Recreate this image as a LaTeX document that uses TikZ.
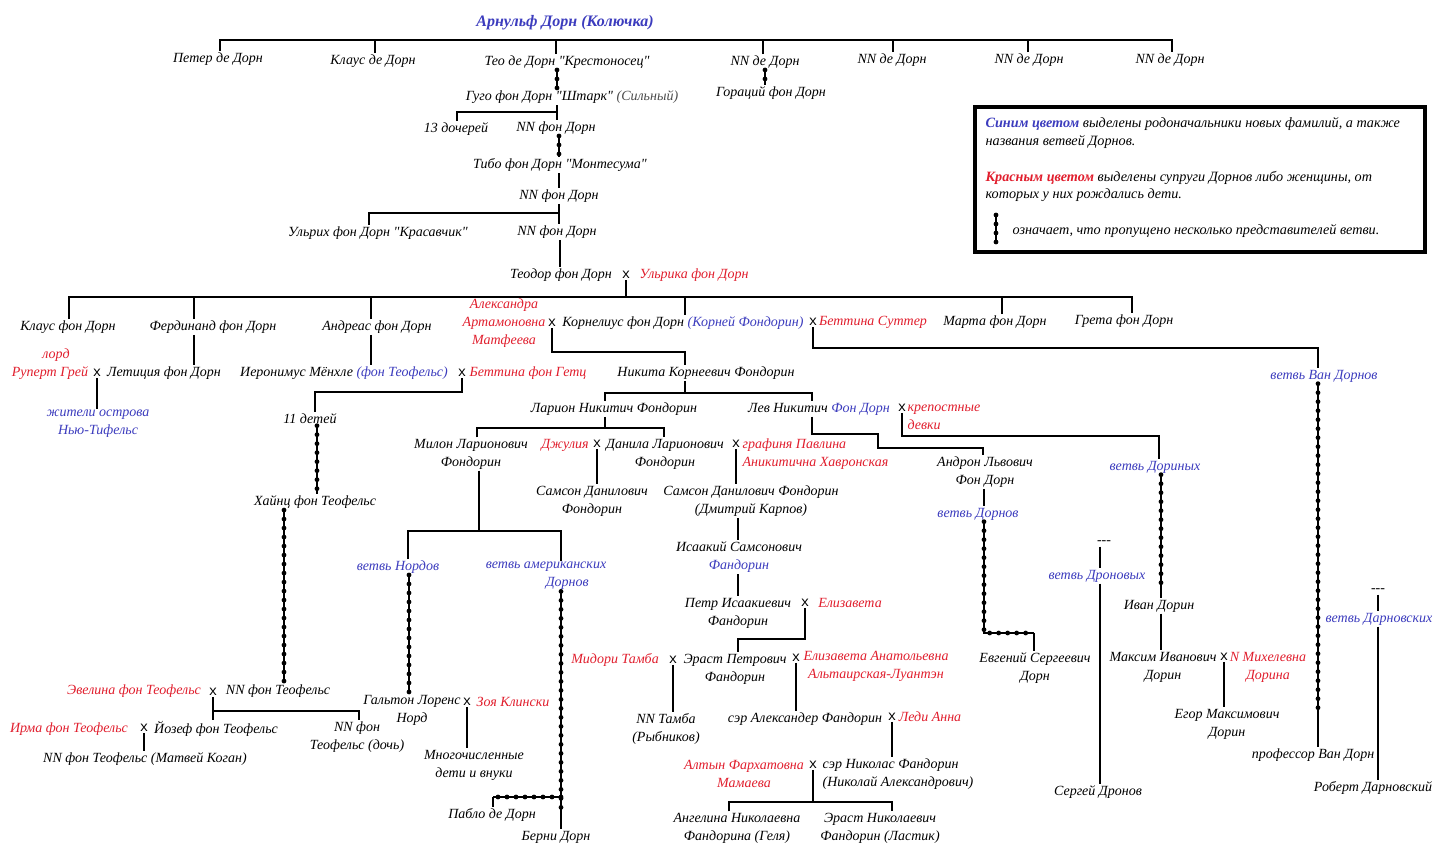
\documentclass[tikz,border=0pt]{standalone}
\usepackage{fontspec}
\setmainfont{Liberation Serif}
\newfontfamily\monofam{Liberation Mono}
\usetikzlibrary{decorations.markings}
\definecolor{myblue}{RGB}{60,60,190}
\definecolor{myred}{RGB}{225,30,45}
\newcommand\pplfont{\fontsize{14}{18}\selectfont\itshape}
\newcommand\crossfont{\monofam\fontsize{14}{14}\selectfont}
\newcommand\legfont{\fontsize{14.2}{17}\selectfont\itshape}
\newcommand\qq{\textquotedbl}
\tikzset{
  pn/.style={font=\pplfont, inner sep=1pt, align=center},
  bl/.style={pn, text=myblue},
  rd/.style={pn, text=myred},
  mk/.style={font=\crossfont, inner sep=0.5pt},
  lg/.style={font=\legfont, inner sep=0pt, anchor=west},
  gapline/.style={line width=1.6pt, postaction={decorate, decoration={markings, mark=between positions 0 and 1 step 9pt with {\fill (0,0) circle (2.4pt);}}}},
}
\begin{document}
\begin{tikzpicture}[x=1pt,y=-1pt,line width=1.2pt]
\useasboundingbox[fill=white] (0,0) rectangle (1456,864);
% ---------- nodes ----------
\node[bl,font=\fontsize{16}{18}\selectfont\itshape\bfseries] (root) at (565,23) {Арнульф Дорн (Колючка)};
\node[pn] (petr) at (218,59) {Петер де Дорн};
\node[pn] (klaus1) at (373,61) {Клаус де Дорн};
\node[pn] (teo) at (567,62) {Тео де Дорн \qq Крестоносец\qq};
\node[pn] (nn1) at (765,62) {NN де Дорн};
\node[pn] (nn2) at (892,60) {NN де Дорн};
\node[pn] (nn3) at (1029,60) {NN де Дорн};
\node[pn] (nn4) at (1170,60) {NN де Дорн};
\node[pn] (gugo) at (572,97) {Гуго фон Дорн \qq Штарк\qq{} {\color{black!70}(Сильный)}};
\node[pn] (horac) at (771,93) {Гораций фон Дорн};
\node[pn] (daughters) at (456,129) {13 дочерей};
\node[pn] (nnf1) at (556,128) {NN фон Дорн};
\node[pn] (tibo) at (560,165) {Тибо фон Дорн \qq Монтесума\qq};
\node[pn] (nnf2) at (559,196) {NN фон Дорн};
\node[pn] (ulrich) at (378,233) {Ульрих фон Дорн \qq Красавчик\qq};
\node[pn] (nnf3) at (557,232) {NN фон Дорн};
\node[pn] (teodor) at (561,275) {Теодор фон Дорн};
\node[mk] (m1) at (626,275) {x};
\node[rd] (ulrika) at (694,275) {Ульрика фон Дорн};
% generation of Teodor's children
\node[pn] (klaus2) at (68,327) {Клаус фон Дорн};
\node[pn] (ferd) at (213,327) {Фердинанд фон Дорн};
\node[pn] (andreas) at (377,327) {Андреас фон Дорн};
\node[rd] (alex) at (504,323) {Александра\\Артамоновна\\Матфеева};
\node[mk] (m2) at (552,323) {x};
\node[pn] (korn) at (683,323) {Корнелиус фон Дорн {\color{myblue}(Корней Фондорин)}};
\node[mk] (m3) at (813,322) {x};
\node[rd] (bettS) at (873,322) {Беттина Суттер};
\node[pn] (marta) at (995,322) {Марта фон Дорн};
\node[pn] (greta) at (1124,321) {Грета фон Дорн};
% Ferdinand line
\node[rd] (lord) at (56,355) {лорд};
\node[rd] (rupert) at (50,373) {Руперт Грей};
\node[mk] (m4) at (97,373) {x};
\node[pn] (letic) at (164,373) {Летиция фон Дорн};
\node[bl] (islanders) at (98,424) {жители острова\\Нью-Тифельс};
% Andreas line
\node[pn] (ieron) at (344,373) {Иеронимус Мёнхле {\color{myblue}(фон Теофельс)}};
\node[mk] (m5) at (462,373) {x};
\node[rd] (bettG) at (528,373) {Беттина фон Гетц};
\node[pn] (kids11) at (310,419) {11 детей};
\node[pn] (heinz) at (315,502) {Хайнц фон Теофельс};
\node[rd] (evel) at (134,691) {Эвелина фон Теофельс};
\node[mk] (m6) at (213,692) {x};
\node[pn] (nnT) at (278,691) {NN фон Теофельс};
\node[pn] (nnTd) at (357,737) {NN фон\\Теофельс (дочь)};
\node[rd] (irma) at (69,729) {Ирма фон Теофельс};
\node[mk] (m7) at (144,728) {x};
\node[pn] (josef) at (216,729) {Йозеф фон Теофельс};
\node[pn] (kogan) at (145,759) {NN фон Теофельс (Матвей Коган)};
% Kornelius line
\node[pn] (nikita) at (706,373) {Никита Корнеевич Фондорин};
\node[bl] (vanB) at (1324,376) {ветвь Ван Дорнов};
\node[pn] (vanD) at (1313,755) {профессор Ван Дорн};
\node[pn] (larion) at (614,409) {Ларион Никитич Фондорин};
\node[pn] (lev) at (819,409) {Лев Никитич {\color{myblue}Фон Дорн}};
\node[mk] (m8) at (902,408) {x};
\node[rd, anchor=west, align=left] (serfs) at (906,417) {крепостные\\девки};
\node[pn] (milon) at (471,454) {Милон Ларионович\\Фондорин};
\node[rd] (julia) at (565,445) {Джулия};
\node[mk] (m9) at (597,444) {x};
\node[pn] (danila) at (665,454) {Данила Ларионович\\Фондорин};
\node[mk] (m10) at (736,444) {x};
\node[rd, anchor=west, align=left] (pavlina) at (741,454) {графиня Павлина\\Аникитична Хавронская};
\node[pn] (samson1) at (592,501) {Самсон Данилович\\Фондорин};
\node[pn] (samson2) at (751,501) {Самсон Данилович Фондорин\\(Дмитрий Карпов)};
\node[pn] (isaak) at (739,557) {Исаакий Самсонович\\{\color{myblue}Фандорин}};
\node[pn] (petr2) at (738,613) {Петр Исаакиевич\\Фандорин};
\node[mk] (m11) at (805,603) {x};
\node[rd] (eliz) at (850,603) {Елизавета};
\node[rd] (midori) at (615,660) {Мидори Тамба};
\node[mk] (m12) at (673,660) {x};
\node[pn] (erast) at (735,669) {Эраст Петрович\\Фандорин};
\node[mk] (m13) at (796,658) {x};
\node[rd] (elizA) at (876,666) {Елизавета Анатольевна\\Альтаирская-Луантэн};
\node[pn] (nnTamba) at (666,729) {NN Тамба\\(Рыбников)};
\node[pn] (alexF) at (805,719) {сэр Александер Фандорин};
\node[mk] (m14) at (892,717) {x};
\node[rd] (anna) at (930,717) {Леди Анна};
\node[rd] (altyn) at (744,774) {Алтын Фархатовна\\Мамаева};
\node[mk] (m15) at (813,765) {x};
\node[pn, anchor=west, align=left] (nikolas) at (821,774) {сэр Николас Фандорин\\(Николай Александрович)};
\node[pn] (angel) at (737,828) {Ангелина Николаевна\\Фандорина (Геля)};
\node[pn] (erast2) at (880,828) {Эраст Николаевич\\Фандорин (Ластик)};
% Milon line
\node[bl] (nords) at (398,567) {ветвь Нордов};
\node[bl, align=left] (amer) at (546,576) {ветвь американских\\\hspace*{60pt}Дорнов};
\node[pn] (galton) at (412,710) {Гальтон Лоренс\\Норд};
\node[mk] (m16) at (467,702) {x};
\node[rd] (zoya) at (513,702) {Зоя Клински};
\node[pn] (many) at (474,765) {Многочисленные\\дети и внуки};
\node[pn] (pablo) at (492,815) {Пабло де Дорн};
\node[pn] (berni) at (556,837) {Берни Дорн};
% Lev line
\node[bl] (dorinB) at (1155,467) {ветвь Дориных};
\node[pn] (andron) at (985,472) {Андрон Львович\\Фон Дорн};
\node[bl] (dornB) at (978,514) {ветвь Дорнов};
\node[pn] (evgen) at (1035,668) {Евгений Сергеевич\\Дорн};
\node[pn] (dash1) at (1104,543) {{-}{-}{-}};
\node[bl] (dronB) at (1097,576) {ветвь Дроновых};
\node[pn] (sergei) at (1098,792) {Сергей Дронов};
\node[pn] (ivan) at (1159,606) {Иван Дорин};
\node[pn] (maxim) at (1163,667) {Максим Иванович\\Дорин};
\node[mk] (m17) at (1224,657) {x};
\node[rd] (nMich) at (1268,667) {N Михелевна\\Дорина};
\node[pn] (egor) at (1227,724) {Егор Максимович\\Дорин};
\node[pn] (dash2) at (1378,591) {{-}{-}{-}};
\node[bl] (darnB) at (1379,619) {ветвь Дарновских};
\node[pn] (robert) at (1373,788) {Роберт Дарновский};
% ---------- legend ----------
\node[draw, line width=3.5pt, minimum width=450pt, minimum height=145pt, inner sep=0pt] (legend) at (1200,179.5) {};
\node[lg] (leg1) at (985,124) {{\bfseries\color{myblue}Синим цветом} выделены родоначальники новых фамилий, а также};
\node[lg] (leg2) at (985,142) {названия ветвей Дорнов.};
\node[lg] (leg3) at (985,178) {{\bfseries\color{myred}Красным цветом} выделены супруги Дорнов либо женщины, от};
\node[lg] (leg4) at (985,195) {которых у них рождались дети.};
\node[lg] (leg5) at (1012,231) {означает, что пропущено несколько представителей ветви.};
\coordinate (lc1) at (996,215);
\coordinate (lc2) at (996,242);
\draw[gapline] (lc1) -- (lc2);
% ---------- connectors ----------
\coordinate (b0) at (0,40);
\draw (petr.north -| 220,0) -- (b0 -| 220,0) -- (b0 -| 1172,0) -- (nn4.north -| 1172,0);
\draw (klaus1.north -| 375,0) -- (b0 -| 375,0);
\draw (teo.north -| 556,0) -- (b0 -| 556,0);
\draw (nn1.north -| 763,0) -- (b0 -| 763,0);
\draw (nn2.north -| 893,0) -- (b0 -| 893,0);
\draw (nn3.north -| 1028,0) -- (b0 -| 1028,0);
\draw[gapline] (teo.south -| 557,0) -- (gugo.north -| 557,0);
\draw[gapline] (nn1.south -| 765,0) -- (horac.north -| 765,0);
\coordinate (b1) at (0,112);
\draw (gugo.south -| 557,0) -- (nnf1.north -| 557,0);
\draw (daughters.north -| 457,0) -- (b1 -| 457,0) -- (b1 -| 557,0);
\draw[gapline] (nnf1.south -| 559,0) -- (tibo.north -| 559,0);
\draw (tibo.south -| 559,0) -- (nnf2.north -| 559,0);
\coordinate (b2) at (0,213);
\draw (nnf2.south -| 559,0) -- (nnf3.north -| 559,0);
\draw (ulrich.north -| 369,0) -- (b2 -| 369,0) -- (b2 -| 559,0);
\draw (nnf3.south -| 560,0) -- (teodor.north -| 560,0);
\coordinate (b3) at (0,297);
\draw (m1.south) -- (b3 -| m1.south);
\draw (klaus2.north -| 69,0) -- (b3 -| 69,0) -- (b3 -| 1132,0) -- (greta.north -| 1132,0);
\draw (ferd.north -| 194,0) -- (b3 -| 194,0);
\draw (andreas.north -| 371,0) -- (b3 -| 371,0);
\draw (korn.north -| 685,0) -- (b3 -| 685,0);
\draw (marta.north -| 1002,0) -- (b3 -| 1002,0);
% Ferdinand
\draw (ferd.south -| 194,0) -- (letic.north -| 194,0);
\draw (m4.south) -- (islanders.north -| m4.south);
% Andreas
\draw (andreas.south -| 371,0) -- (ieron.north -| 371,0);
\coordinate (b4) at (0,392);
\draw (m5.south) -- (b4 -| m5.south) -- (b4 -| 315,0) -- (kids11.north -| 315,0);
\draw[gapline] (kids11.south -| 317,0) -- (heinz.north -| 317,0);
\draw[gapline] (heinz.south -| 284,0) -- (nnT.north -| 284,0);
\coordinate (b5) at (0,711);
\draw (m6.south) -- (josef.north -| m6.south);
\draw (b5 -| m6.south) -- (b5 -| 359,0) -- (nnTd.north -| 359,0);
\draw (m7.south) -- (kogan.north -| m7.south);
% Kornelius
\coordinate (b6) at (0,352);
\draw (m2.south) -- (b6 -| m2.south) -- (b6 -| 685,0) -- (nikita.north -| 685,0);
\coordinate (b7) at (0,348);
\draw (m3.south) -- (b7 -| m3.south) -- (b7 -| 1318,0) -- (vanB.north -| 1318,0);
\coordinate (vanE) at (1318,708);
\draw[gapline] (vanB.south -| 1318,0) -- (vanE);
\draw (vanE) -- (vanD.north -| 1318,0);
\coordinate (b8) at (0,393);
\draw (nikita.south -| 685,0) -- (b8 -| 685,0);
\draw (larion.north -| 605,0) -- (b8 -| 605,0) -- (b8 -| 812,0) -- (lev.north -| 812,0);
\coordinate (b9) at (0,428);
\draw (larion.south -| 605,0) -- (b9 -| 605,0);
\draw (milon.north -| 477,0) -- (b9 -| 477,0) -- (b9 -| 664,0) -- (danila.north -| 664,0);
\draw (m9.south) -- (samson1.north -| m9.south);
\draw (m10.south) -- (samson2.north -| m10.south);
\draw (samson2.south -| 738,0) -- (isaak.north -| 738,0);
\draw (isaak.south -| 738,0) -- (petr2.north -| 738,0);
\coordinate (b10) at (0,639);
\draw (m11.south) -- (b10 -| m11.south) -- (b10 -| 738,0) -- (erast.north -| 738,0);
\draw (m12.south) -- (nnTamba.north -| m12.south);
\draw (m13.south) -- (alexF.north -| m13.south);
\draw (m14.south) -- (nikolas.north -| m14.south);
\coordinate (b11) at (0,802);
\draw (m15.south) -- (b11 -| m15.south);
\draw (angel.north -| 729,0) -- (b11 -| 729,0) -- (b11 -| 892,0) -- (erast2.north -| 892,0);
% Milon
\coordinate (b12) at (0,531);
\draw (milon.south -| 479,0) -- (b12 -| 479,0);
\draw (nords.north -| 408,0) -- (b12 -| 408,0) -- (b12 -| 561,0) -- (amer.north -| 561,0);
\draw[gapline] (nords.south -| 409,0) -- (galton.north -| 409,0);
\draw (m16.south) -- (many.north -| m16.south);
\coordinate (amerK) at (561,797);
\coordinate (amerE) at (561,815);
\draw[gapline] (amer.south -| 561,0) -- (amerE);
\draw (amerE) -- (berni.north -| 561,0);
\draw[gapline] (amerK) -- (amerK -| 493,0);
\draw (amerK -| 493,0) -- (pablo.north -| 493,0);
% Lev
\coordinate (b13) at (0,436);
\draw (m8.south) -- (b13 -| m8.south) -- (b13 -| 1159,0) -- (dorinB.north -| 1159,0);
\coordinate (b14) at (0,434);
\coordinate (b15) at (0,448);
\draw (lev.south -| 812,0) -- (b14 -| 812,0) -- (b14 -| 878,0) -- (b15 -| 878,0) -- (b15 -| 983,0) -- (andron.north -| 983,0);
\draw (andron.south -| 984,0) -- (dornB.north -| 984,0);
\coordinate (dk1) at (984,633);
\coordinate (dk2) at (1034,633);
\draw[gapline] (dornB.south -| 984,0) -- (dk1) -- (dk2);
\draw (dk2) -- (evgen.north -| 1034,0);
\draw (dash1.south -| 1100,0) -- (dronB.north -| 1100,0);
\draw (dronB.south -| 1100,0) -- (sergei.north -| 1100,0);
\coordinate (ivE) at (1161,584);
\draw[gapline] (dorinB.south -| 1161,0) -- (ivE);
\draw (ivE) -- (ivan.north -| 1161,0);
\draw (ivan.south -| 1161,0) -- (maxim.north -| 1161,0);
\draw (m17.south) -- (egor.north -| m17.south);
\draw (dash2.south -| 1378,0) -- (darnB.north -| 1378,0);
\draw (darnB.south -| 1378,0) -- (robert.north -| 1378,0);
\end{tikzpicture}
\end{document}
